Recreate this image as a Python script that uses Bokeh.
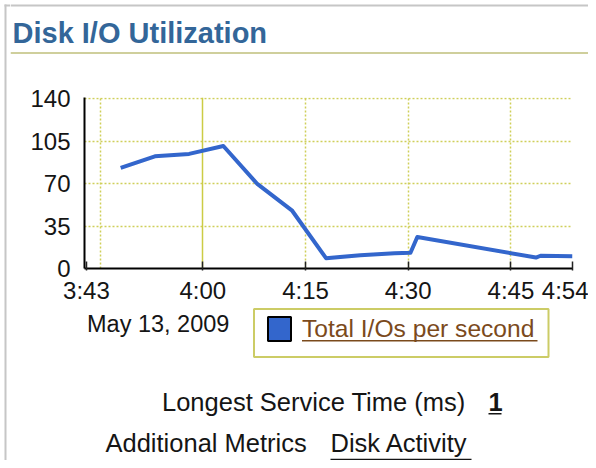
from datetime import datetime
from bokeh.plotting import figure
from bokeh.layouts import column, row
from bokeh.models import Range1d, FixedTicker, Grid
from bokeh.core.properties import value
from bokeh.embed import file_html
from bokeh.resources import INLINE

# ---- data ----
day = (2009, 5, 13)
times = ["03:48", "03:53", "03:58", "04:03", "04:08", "04:13", "04:18",
         "04:23", "04:28", "04:30:20", "04:31:20", "04:48:40", "04:49:20", "04:54"]
values = [83, 92.5, 94.5, 101, 69.5, 48, 8.5, 11, 12.5, 13, 26, 9, 10.5, 10]
series_name = "Total I/Os per second"

x_tick_times = ["03:43", "04:00", "04:15", "04:30", "04:45", "04:54"]
x_tick_labels = ["3:43", "4:00", "4:15", "4:30", "4:45", "4:54"]
x_grid_times = ["03:45", "04:15", "04:30", "04:45"]
hour_mark = ["04:00"]
y_ticks = [0, 35, 70, 105, 140]

title_text = "Disk I/O Utilization"
date_text = "May 13, 2009"
service_label = "Longest Service Time (ms)"
service_value = "1"
metrics_label = "Additional Metrics"
metrics_link = "Disk Activity"


def ms(t):
    parts = [int(v) for v in t.split(":")]
    s = parts[2] if len(parts) > 2 else 0
    dt = datetime(day[0], day[1], day[2], parts[0], parts[1], s)
    return (dt - datetime(1970, 1, 1)).total_seconds() * 1000.0


FONT = "Liberation Sans"
TEXT = "#151515"
PAGE_W, PAGE_H = 588, 460
STRIP = 10
COL_W = PAGE_W - STRIP
HEAD_H = 70
CHART_H = 236
FOOT_H = PAGE_H - HEAD_H - CHART_H
BORDER = "#c6c6c6"


def blank(w, h, x0, y0):
    f = figure(width=w, height=h, output_backend="svg", toolbar_location=None,
               x_range=Range1d(x0, x0 + w), y_range=Range1d(y0 + h, y0),
               x_axis_location=None, y_axis_location=None, min_border=0)
    f.outline_line_color = None
    f.grid.visible = False
    f.background_fill_color = "white"
    f.border_fill_color = "white"
    return f


def txt(f, x, base, s, size, color=TEXT, bold=False):
    # y given as the text baseline; drawn with a middle anchor
    f.text(x=[x], y=[base - 0.347 * size], text=[s], text_font=value(FONT),
           text_font_size=value(f"{size}px"), text_color=color,
           text_font_style="bold" if bold else "normal",
           text_baseline="middle", text_align="left")


def bar(f, l, t, r, b, color):
    f.quad(left=[l], right=[r], top=[t], bottom=[b], fill_color=color, line_color=None)


# ---- left page border strip ----
strip = blank(STRIP, PAGE_H, 0, 0)
bar(strip, 4, 4, 6, PAGE_H, BORDER)
bar(strip, 4, 4, STRIP, 6, BORDER)

# ---- header ----
head = blank(COL_W, HEAD_H, STRIP, 0)
bar(head, STRIP, 4, PAGE_W, 6, BORDER)
txt(head, 12, 43, title_text, 29, color="#336699", bold=True)
bar(head, STRIP, 51.5, PAGE_W, 53.5, "#cfcf9c")

# ---- chart ----
p = figure(width=COL_W, height=CHART_H, x_axis_type="datetime",
           output_backend="svg", toolbar_location=None,
           x_range=Range1d(ms("03:42:43"), ms("04:54")),
           y_range=Range1d(0, 141),
           min_border_left=74, min_border_right=16,
           min_border_top=27, min_border_bottom=38)
p.outline_line_color = None
p.background_fill_color = "white"
p.border_fill_color = "white"

GRID = "#cfcf5a"
p.xgrid.visible = False
p.ygrid.ticker = FixedTicker(ticks=y_ticks[1:])
p.ygrid.grid_line_color = GRID
p.ygrid.grid_line_dash = "2 2"
p.ygrid.grid_line_width = 1.5
p.add_layout(Grid(dimension=0, ticker=FixedTicker(ticks=[ms(t) for t in x_grid_times]),
                  grid_line_color=GRID, grid_line_dash="2 2", grid_line_width=1.5))
p.add_layout(Grid(dimension=0, ticker=FixedTicker(ticks=[ms(t) for t in hour_mark]),
                  grid_line_color="#cccc44", grid_line_width=1.5))

xa = p.xaxis[0]
xa.ticker = FixedTicker(ticks=[ms(t) for t in x_tick_times])
xa.major_label_overrides = {ms(t): lab for t, lab in zip(x_tick_times, x_tick_labels)}
xa.axis_line_width = 2
xa.axis_line_color = "black"
xa.major_tick_in = 7
xa.major_tick_out = 2
xa.major_tick_line_width = 1.5
xa.major_tick_line_color = "#222222"
xa.minor_tick_line_color = None
xa.major_label_standoff = 6
xa.major_label_text_font = FONT
xa.major_label_text_font_size = "24px"
xa.major_label_text_color = TEXT

ya = p.yaxis[0]
ya.ticker = FixedTicker(ticks=y_ticks)
ya.axis_line_width = 2
ya.axis_line_color = "black"
ya.major_tick_in = 0
ya.major_tick_out = 0
ya.minor_tick_line_color = None
ya.major_label_standoff = 14
ya.major_label_text_font = FONT
ya.major_label_text_font_size = "24px"
ya.major_label_text_color = TEXT

p.line([ms(t) for t in times], values, line_color="#3366cc", line_width=4,
       line_join="round")

# ---- footer ----
Y0 = HEAD_H + CHART_H
foot = blank(COL_W, FOOT_H, STRIP, Y0)
txt(foot, 86.5, 331.5, date_text, 23.5)

# legend
foot.quad(left=[253.5], right=[548], top=[308.5], bottom=[356.5], fill_color="white",
          line_color="#cccc66", line_width=2)
foot.quad(left=[267.5], right=[290.5], top=[316.5], bottom=[340.5], fill_color="#3366cc",
          line_color="black", line_width=2)
txt(foot, 301.5, 337, series_name, 24.6, color="#7b4a1c")
bar(foot, 301.5, 339.5, 537, 341, "#7b4a1c")

# footer metrics
txt(foot, 161.5, 410, service_label, 25.5)
txt(foot, 488, 410, service_value, 25.5, bold=True)
bar(foot, 488, 412.5, 501, 414, TEXT)
txt(foot, 105, 451.5, metrics_label, 25.5)
txt(foot, 330, 451.5, metrics_link, 25.5)
bar(foot, 330, 458.3, 471, 459.8, TEXT)

layout = row(strip, column(head, row(p), foot, spacing=0), spacing=0)
open("out.html", "w").write(file_html(layout, INLINE))
